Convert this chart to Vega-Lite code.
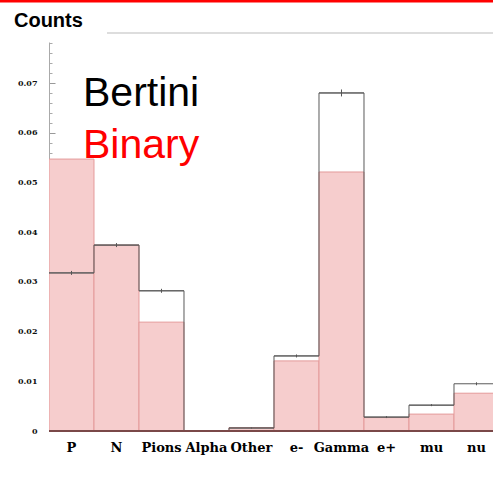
{
  "$schema": "https://vega.github.io/schema/vega-lite/v6.json",
  "width": 444,
  "height": 389,
  "autosize": {"type": "none"},
  "padding": {"left": 49, "top": 42, "right": 0, "bottom": 46},
  "background": "white",
  "config": {"view": {"stroke": null}, "axis": {"grid": false}},
  "data": {"values": [
    {"particle": "P", "bin_start": 0, "bin_end": 1, "bertini": 0.0318, "bertini_lo": 0.0314, "bertini_hi": 0.0322, "binary": 0.0547},
    {"particle": "N", "bin_start": 1, "bin_end": 2, "bertini": 0.0374, "bertini_lo": 0.0370, "bertini_hi": 0.0378, "binary": 0.0374},
    {"particle": "Pions", "bin_start": 2, "bin_end": 3, "bertini": 0.0282, "bertini_lo": 0.0278, "bertini_hi": 0.0286, "binary": 0.0219},
    {"particle": "Alpha", "bin_start": 3, "bin_end": 4, "bertini": 0.0, "bertini_lo": 0.0, "bertini_hi": 0.0, "binary": 0.0},
    {"particle": "Other", "bin_start": 4, "bin_end": 5, "bertini": 0.0006, "bertini_lo": 0.0005, "bertini_hi": 0.0007, "binary": 0.0007},
    {"particle": "e-", "bin_start": 5, "bin_end": 6, "bertini": 0.0151, "bertini_lo": 0.0148, "bertini_hi": 0.0154, "binary": 0.0141},
    {"particle": "Gamma", "bin_start": 6, "bin_end": 7, "bertini": 0.0680, "bertini_lo": 0.0673, "bertini_hi": 0.0687, "binary": 0.0521},
    {"particle": "e+", "bin_start": 7, "bin_end": 8, "bertini": 0.0028, "bertini_lo": 0.0026, "bertini_hi": 0.0030, "binary": 0.0027},
    {"particle": "mu", "bin_start": 8, "bin_end": 9, "bertini": 0.0052, "bertini_lo": 0.0050, "bertini_hi": 0.0054, "binary": 0.0034},
    {"particle": "nu", "bin_start": 9, "bin_end": 10, "bertini": 0.0095, "bertini_lo": 0.0092, "bertini_hi": 0.0098, "binary": 0.0076}
  ]},
  "layer": [
    {
      "mark": {"type": "rect", "fill": "#f6cdcd", "stroke": "#e49a9a", "strokeWidth": 1, "clip": true},
      "encoding": {
        "x": {"field": "bin_start", "type": "quantitative", "scale": {"domain": [0, 9.867], "nice": false, "zero": false}, "axis": null},
        "x2": {"field": "bin_end"},
        "y": {"field": "binary", "type": "quantitative", "scale": {"domain": [0, 0.07825], "nice": false},
          "axis": {"orient": "left", "values": [0, 0.01, 0.02, 0.03, 0.04, 0.05, 0.06, 0.07],
            "labelExpr": "datum.value == 0 ? '0' : format(datum.value, '.2f')",
            "tickSize": -6, "tickColor": "#999999", "domainColor": "#aaaaaa", "labelPadding": 18, "title": null,
            "labelFont": "DejaVu Serif", "labelFontWeight": "bold", "labelFontSize": 8, "labelColor": "#111111", "labelBaseline": "middle"}},
        "y2": {"datum": 0}
      }
    },
    {
      "mark": {"type": "line", "interpolate": "step-after", "color": "#5a5a5a", "strokeWidth": 1, "clip": true},
      "encoding": {
        "x": {"field": "bin_start", "type": "quantitative", "axis": null},
        "y": {"field": "bertini", "type": "quantitative",
          "axis": {"orient": "left", "values": [0.002, 0.004, 0.006, 0.008, 0.012, 0.014, 0.016, 0.018, 0.022, 0.024, 0.026, 0.028, 0.032, 0.034, 0.036, 0.038, 0.042, 0.044, 0.046, 0.048, 0.052, 0.054, 0.056, 0.058, 0.062, 0.064, 0.066, 0.068, 0.072, 0.074, 0.076, 0.078],
            "tickSize": -3, "tickColor": "#aaaaaa", "labels": false, "domain": false, "title": null}}
      }
    },
    {
      "mark": {"type": "rule", "color": "#5a5a5a", "strokeWidth": 1, "clip": true},
      "encoding": {
        "x": {"field": "bin_start", "type": "quantitative", "axis": null},
        "x2": {"field": "bin_end"},
        "y": {"field": "bertini", "type": "quantitative", "axis": null}
      }
    },
    {
      "transform": [{"filter": "datum.bertini_hi > datum.bertini_lo"}],
      "mark": {"type": "rule", "color": "#555555", "strokeWidth": 1, "clip": true, "xOffset": 22.5},
      "encoding": {
        "x": {"field": "bin_start", "type": "quantitative", "axis": null},
        "y": {"field": "bertini_lo", "type": "quantitative", "axis": null},
        "y2": {"field": "bertini_hi"}
      }
    },
    {
      "mark": {"type": "rule", "color": "#7b4848", "strokeWidth": 1.2},
      "encoding": {
        "y": {"datum": 0, "type": "quantitative", "axis": null}
      }
    },
    {
      "mark": {"type": "text", "align": "center", "baseline": "alphabetic", "dx": 22.5, "dy": 21, "font": "DejaVu Serif", "fontWeight": "bold", "fontSize": 13, "color": "#000000"},
      "encoding": {
        "x": {"field": "bin_start", "type": "quantitative", "axis": null},
        "y": {"datum": 0, "type": "quantitative", "axis": null},
        "text": {"field": "particle"}
      }
    },
    {
      "data": {"values": [{"series": "Bertini"}]},
      "mark": {"type": "text", "align": "left", "baseline": "alphabetic", "font": "Liberation Sans", "fontSize": 41, "color": "#000000"},
      "encoding": {
        "x": {"datum": 0.756, "type": "quantitative", "axis": null},
        "y": {"datum": 0.0653, "type": "quantitative", "axis": null},
        "text": {"field": "series"}
      }
    },
    {
      "data": {"values": [{"series": "Binary"}]},
      "mark": {"type": "text", "align": "left", "baseline": "alphabetic", "font": "Liberation Sans", "fontSize": 41, "color": "#ff0000"},
      "encoding": {
        "x": {"datum": 0.756, "type": "quantitative", "axis": null},
        "y": {"datum": 0.0550, "type": "quantitative", "axis": null},
        "text": {"field": "series"}
      }
    },
    {
      "data": {"values": [{"label": "Counts"}]},
      "mark": {"type": "text", "align": "left", "baseline": "alphabetic", "font": "Liberation Sans", "fontSize": 20, "fontWeight": "bold", "color": "#000000"},
      "encoding": {
        "x": {"datum": -0.778, "type": "quantitative", "axis": null},
        "y": {"datum": 0.08127, "type": "quantitative", "axis": null},
        "text": {"field": "label"}
      }
    },
    {
      "data": {"values": [{"note": "separator"}]},
      "mark": {"type": "rule", "color": "#bbbbbb", "strokeWidth": 1},
      "encoding": {
        "x": {"datum": 1.289, "type": "quantitative", "axis": null},
        "x2": {"datum": 9.867},
        "y": {"datum": 0.08006, "type": "quantitative", "axis": null}
      }
    },
    {
      "data": {"values": [{"note": "header"}]},
      "mark": {"type": "rule", "color": "#ff0000", "strokeWidth": 3},
      "encoding": {
        "x": {"datum": -1.09, "type": "quantitative", "axis": null},
        "x2": {"datum": 9.867},
        "y": {"datum": 0.0865, "type": "quantitative", "axis": null}
      }
    }
  ],
  "resolve": {"axis": {"y": "independent"}}
}
